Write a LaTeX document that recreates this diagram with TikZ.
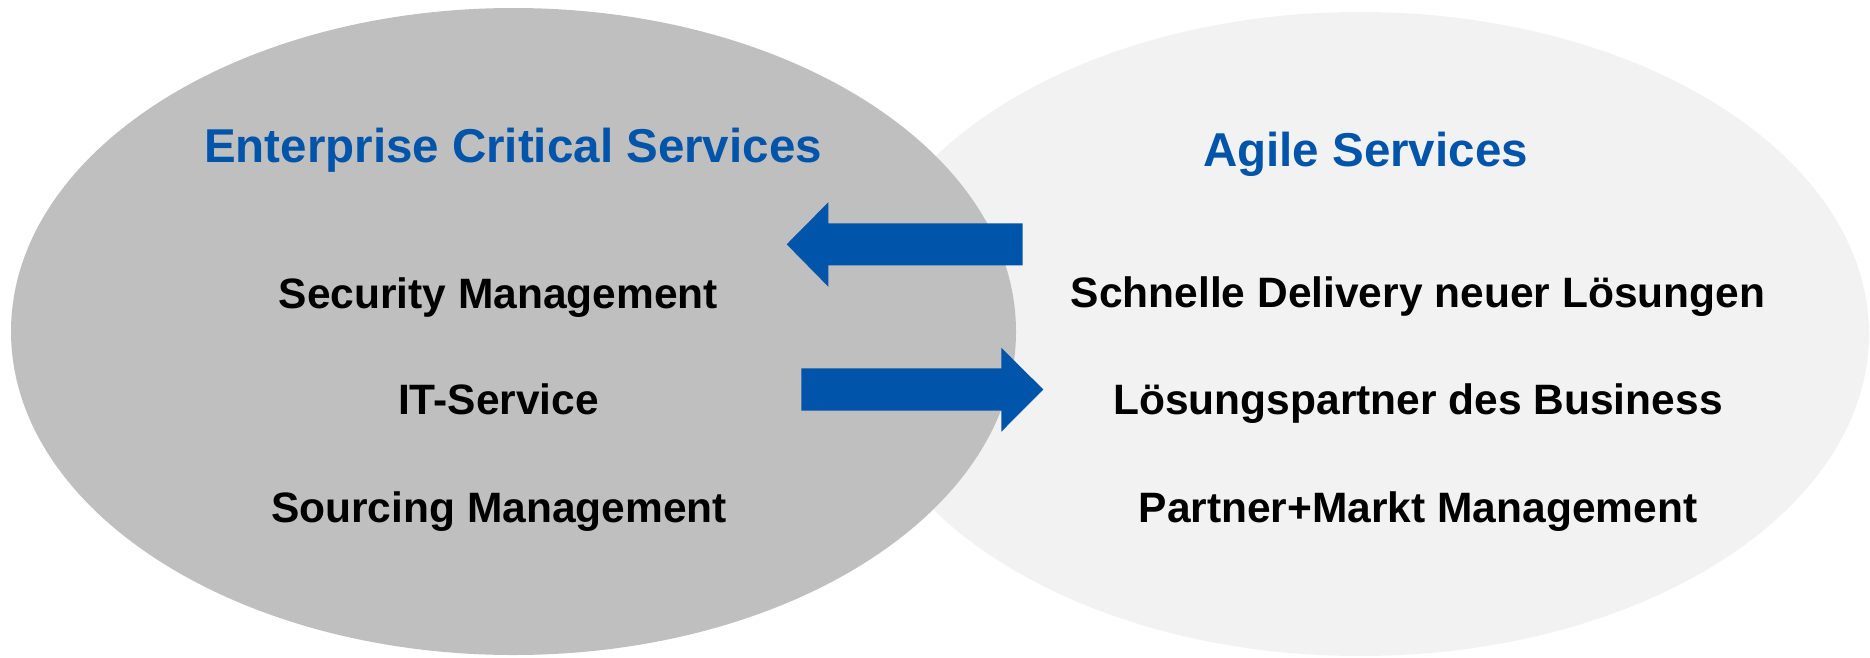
\documentclass[tikz,border=0pt]{standalone}
\usepackage{fontspec}
\setmainfont{Liberation Sans}
\definecolor{ecsgray}{HTML}{BFBFBF}
\definecolor{agilegray}{HTML}{F2F2F2}
\definecolor{sapblue}{HTML}{0055AA}
\begin{document}
\begin{tikzpicture}[x=1pt,y=-1pt,
  title/.style={anchor=base,font=\fontsize{47.5}{50}\selectfont\bfseries,text=sapblue,inner sep=0pt},
  item/.style={anchor=base,font=\fontsize{42.5}{45}\selectfont\bfseries,text=black,inner sep=0pt},
  bluearrow/.style={fill=sapblue,draw=none}]
\useasboundingbox (0,0) rectangle (1870,657);
% ellipses
\fill[agilegray] (1360,334) ellipse [x radius=509, y radius=322];
\fill[ecsgray] (513.5,331.5) ellipse [x radius=502.5, y radius=323.5];
% arrows
\fill[bluearrow] (786.7,244.3) -- (828.3,202.3) -- (828.3,223.3) -- (1022.7,223.3)
  -- (1022.7,265.3) -- (828.3,265.3) -- (828.3,286.7) -- cycle;
\fill[bluearrow] (1043.3,389.5) -- (1001.3,347.7) -- (1001.3,368.3) -- (801.3,368.3)
  -- (801.3,410.7) -- (1001.3,410.7) -- (1001.3,431.7) -- cycle;
% titles
\node[title] (ecs) at (513,162.5) {Enterprise Critical Services};
\node[title] (agile) at (1365.5,166.7) {Agile Services};
% left items
\node[item] (sec) at (498.5,308) {Security Management};
\node[item] (its) at (498.5,414.7) {IT-Service};
\node[item] (src) at (499,522.8) {Sourcing Management};
% right items
\node[item] (deliv) at (1418,307) {Schnelle Delivery neuer Lösungen};
\node[item] (lpart) at (1418,414.7) {Lösungspartner des Business};
\node[item] (pmm) at (1418,522.8) {Partner+Markt Management};
\end{tikzpicture}
\end{document}
